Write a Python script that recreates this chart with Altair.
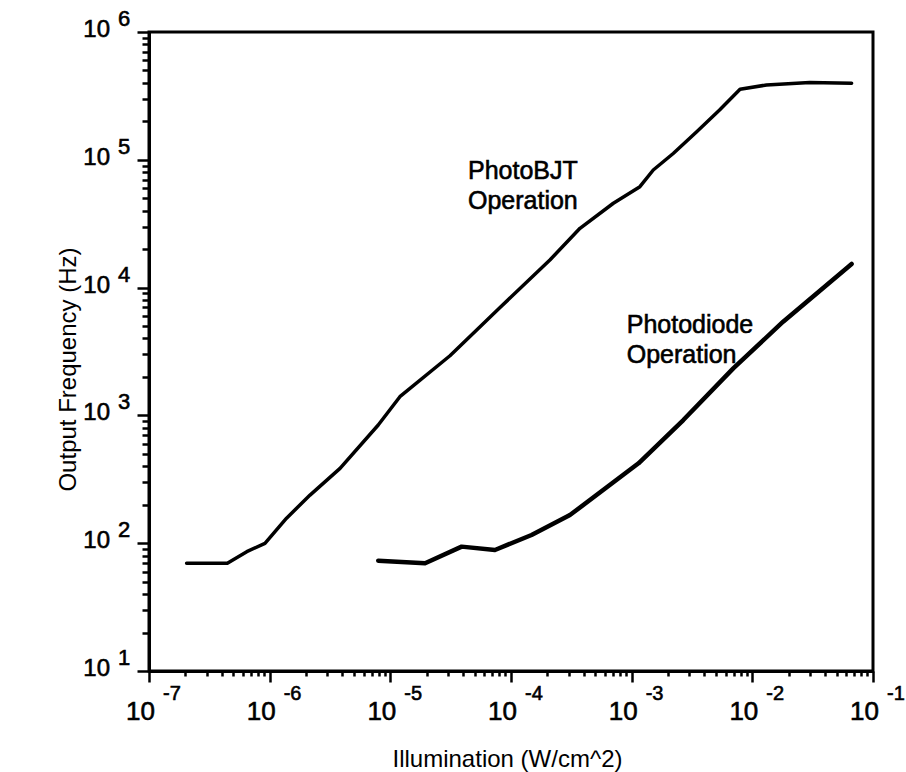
import altair as alt
import pandas as pd

FONT = "Liberation Sans"

# PhotoBJT operation: illumination (W/cm^2) vs output frequency (Hz)
bjt_x = [2.05e-7, 4.46e-7, 6.46e-7, 9.14e-7, 1.38e-6, 2.16e-6, 3.83e-6, 7.94e-6,
         1.20e-5, 3.12e-5, 8.11e-5, 2.10e-4, 3.73e-4, 7.05e-4, 1.17e-3, 1.51e-3,
         2.21e-3, 3.46e-3, 5.35e-3, 7.91e-3, 1.31e-2, 2.99e-2, 6.65e-2]
bjt_y = [69.7, 69.7, 85.9, 99.8, 157, 238, 385, 841,
         1400, 2930, 6980, 16440, 29100, 45700, 61600, 83200,
         1.12e5, 1.66e5, 2.45e5, 3.56e5, 3.85e5, 4.03e5, 3.97e5]

# Photodiode operation
pd_x = [7.94e-6, 1.94e-5, 3.90e-5, 7.36e-5, 1.48e-4, 3.08e-4, 1.14e-3,
        2.68e-3, 6.95e-3, 1.80e-2, 6.65e-2]
pd_y = [73, 69.7, 94, 88.5, 116, 166, 422, 920, 2333, 5410, 15300]

# Decade tick labels (base 10 with superscript exponent)
x_decades = [1e-7, 1e-6, 1e-5, 1e-4, 1e-3, 1e-2, 1e-1]
x_exponents = ["-7", "-6", "-5", "-4", "-3", "-2", "-1"]
y_decades = [1e1, 1e2, 1e3, 1e4, 1e5, 1e6]
y_exponents = ["1", "2", "3", "4", "5", "6"]
minor_steps = [1, 2, 3, 4, 5, 6, 7, 8, 9]

# Curve annotations
note_text = ["PhotoBJT", "Operation", "Photodiode", "Operation"]
note_x = [4.4e-5, 4.4e-5, 9.1e-4, 9.1e-4]
note_y = [7.03e4, 4.1e4, 4385, 2560]

x_ticks = [d * m for d in x_decades[:-1] for m in minor_steps] + [x_decades[-1]]
y_ticks = [d * m for d in y_decades[:-1] for m in minor_steps] + [y_decades[-1]]

major_test = "abs(log(datum.value)/LN10 - round(log(datum.value)/LN10)) < 0.001"

x_scale = alt.Scale(type="log", domain=[1e-7, 1e-1], nice=False)
y_scale = alt.Scale(type="log", domain=[10, 1e6], nice=False)

x_axis = alt.Axis(
    values=x_ticks, labels=False, grid=False,
    tickSize={"condition": {"test": major_test, "value": 11}, "value": 5},
    tickWidth=2.5, tickColor="black", domainColor="black", domainWidth=3,
    title="Illumination (W/cm^2)", titleFont=FONT, titleFontSize=24,
    titleFontWeight="normal", titleColor="black",
    titleX=358, titleY=95, titleBaseline="alphabetic",
)
y_axis = alt.Axis(
    values=y_ticks, labels=False, grid=False,
    tickSize={"condition": {"test": major_test, "value": 12}, "value": 7},
    tickWidth=2.5, tickColor="black", domainColor="black", domainWidth=3,
    title="Output Frequency (Hz)", titleFont=FONT, titleFontSize=24,
    titleFontWeight="normal", titleColor="black",
    titleX=-74, titleY=337, titleBaseline="alphabetic",
)


def xenc(field="x"):
    return alt.X(f"{field}:Q", scale=x_scale, axis=x_axis, title="Illumination (W/cm^2)")


def yenc(field="y"):
    return alt.Y(f"{field}:Q", scale=y_scale, axis=y_axis, title="Output Frequency (Hz)")


bjt_df = pd.DataFrame({"x": bjt_x, "y": bjt_y})
pd_df = pd.DataFrame({"x": pd_x, "y": pd_y})

bjt_line = alt.Chart(bjt_df).mark_line(
    color="black", strokeWidth=3.5, strokeJoin="round", strokeCap="round"
).encode(x=xenc(), y=yenc())

pd_line = alt.Chart(pd_df).mark_line(
    color="black", strokeWidth=4.5, strokeJoin="round", strokeCap="round"
).encode(x=xenc(), y=yenc())

xlab_df = pd.DataFrame({"x": x_decades, "base": ["10"] * len(x_decades), "exp": x_exponents})
ylab_df = pd.DataFrame({"y": y_decades, "base": ["10"] * len(y_decades), "exp": y_exponents})

text_style = dict(baseline="alphabetic", font=FONT, color="black",
                  stroke="black", strokeWidth=0.6)

x_base = alt.Chart(xlab_df).mark_text(
    align="right", fontSize=26, dx=6, **text_style
).encode(x=xenc(), y=alt.value(688), text="base:N")

x_exp = alt.Chart(xlab_df).mark_text(
    align="left", fontSize=20, dx=14, **text_style
).encode(x=xenc(), y=alt.value(668), text="exp:N")

y_base = alt.Chart(ylab_df).mark_text(
    align="right", fontSize=24, dy=5, **text_style
).encode(y=yenc(), x=alt.value(-39), text="base:N")

y_exp = alt.Chart(ylab_df).mark_text(
    align="left", fontSize=22, dy=-6, **text_style
).encode(y=yenc(), x=alt.value(-31), text="exp:N")

notes_df = pd.DataFrame({"x": note_x, "y": note_y, "t": note_text})
notes = alt.Chart(notes_df).mark_text(
    align="left", fontSize=25, **text_style
).encode(x=xenc(), y=yenc(), text="t:N")

chart = alt.layer(
    bjt_line, pd_line, x_base, x_exp, y_base, y_exp, notes
).properties(
    width=724, height=639,
    autosize="none",
    padding={"left": 149, "top": 32, "right": 33, "bottom": 101},
    background="white",
).configure_view(stroke="black", strokeWidth=3)

chart.save("out.html", embed_options={"renderer": "svg", "actions": False})
